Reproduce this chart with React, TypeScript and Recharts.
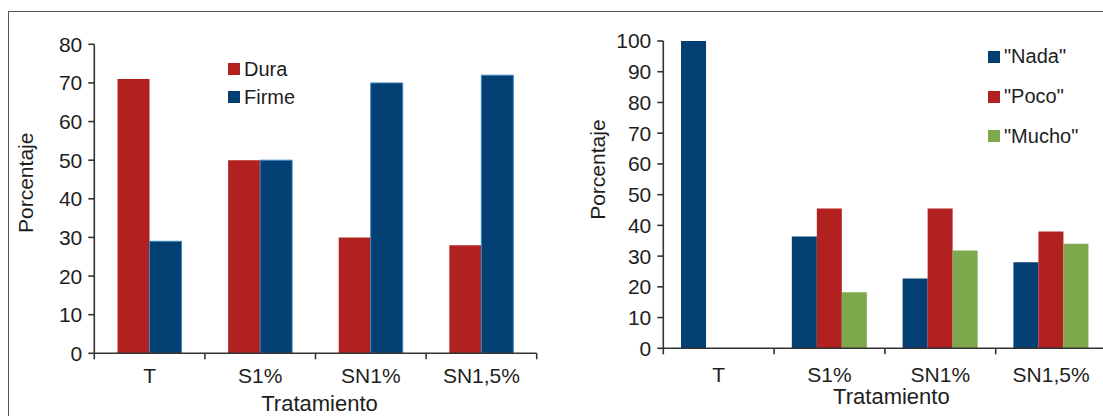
import React from 'react';
import { BarChart, Bar, XAxis, YAxis, Legend, Label } from 'recharts';

const categories = ['T', 'S1%', 'SN1%', 'SN1,5%'];
const dura = [71, 50, 30, 28];
const firme = [29, 50, 70, 72];
const nada = [100, 36.4, 22.7, 28];
const poco = [0, 45.5, 45.5, 38];
const mucho = [0, 18.2, 31.8, 34];
const leftTicks = [0, 10, 20, 30, 40, 50, 60, 70, 80];
const rightTicks = [0, 10, 20, 30, 40, 50, 60, 70, 80, 90, 100];

const leftData = categories.map((c, i) => ({ cat: c, Dura: dura[i], Firme: firme[i] }));
const rightData = categories.map((c, i) => ({ cat: c, Nada: nada[i], Poco: poco[i], Mucho: mucho[i] }));

const RED = '#B0211F';
const BLUE = '#033F73';
const GREEN = '#7DA84B';
const INK = '#1e1e1e';
const AXIS = '#333333';
const FONT = '"Liberation Sans", Arial, sans-serif';

function makeXTick(tickSize: number, tickMargin: number, fontSize: number, count: number) {
  return (props: any) => {
    const { x, y, payload, index } = props;
    const off = payload && payload.offset ? payload.offset : 0;
    const axisY = y - tickSize - tickMargin;
    const isLast = index === count - 1 || (payload && payload.value === categories[count - 1]);
    return (
      <g>
        <line x1={x - off} x2={x - off} y1={axisY} y2={axisY + tickSize} stroke={AXIS} strokeWidth={1.6} />
        {isLast ? (
          <line x1={x + off} x2={x + off} y1={axisY} y2={axisY + tickSize} stroke={AXIS} strokeWidth={1.6} />
        ) : null}
        <text x={x} y={y} dy="0.71em" textAnchor="middle" fontSize={fontSize} fill={INK} fontFamily={FONT}>
          {payload.value}
        </text>
      </g>
    );
  };
}

function makeLegend(rowH: number, names: string[]) {
  return (props: any) => {
    const payload = (props.payload || []).slice().sort(
      (a: any, b: any) => names.indexOf(a.value) - names.indexOf(b.value)
    );
    return (
      <div style={{ fontFamily: FONT }}>
        {payload.map((p: any) => (
          <div key={p.value} style={{ display: 'flex', alignItems: 'center', height: rowH, fontSize: 20, color: INK, whiteSpace: 'nowrap' }}>
            <span style={{ display: 'inline-block', width: 12, height: 12, background: p.color, marginRight: 4 }} />
            <span>{p.value}</span>
          </div>
        ))}
      </div>
    );
  };
}

const LeftTick = makeXTick(6, 9, 21, categories.length);
const RightTick = makeXTick(6, 13, 21, categories.length);

export default function App() {
  return (
    <div style={{ position: 'absolute', left: 0, top: 0, width: 1103, height: 416, overflow: 'hidden', background: '#fff', fontFamily: FONT }}>
      <div style={{ position: 'absolute', left: 8, top: 11, right: -2, bottom: -2, borderTop: '1px solid #555', borderLeft: '1px solid #555' }} />
      <div style={{ position: 'absolute', left: 0, top: 0 }}>
        <BarChart width={560} height={416} data={leftData} margin={{ top: 44.3, right: 23.3, left: 34.3, bottom: 12.7 }} barCategoryGap="21%" barGap={0}>
          <XAxis dataKey="cat" height={50} interval={0} tickLine={false} tickSize={6} tickMargin={9} tick={LeftTick} axisLine={{ stroke: AXIS, strokeWidth: 1.6 }}>
            <Label value="Tratamiento" position="center" dx={4} dy={25} style={{ fontSize: 22, fill: INK, fontFamily: FONT }} />
          </XAxis>
          <YAxis width={60} domain={[0, 80]} ticks={leftTicks} interval={0} tickSize={6} tickMargin={6}
            tick={{ fontSize: 21, fill: INK, fontFamily: FONT }} tickLine={{ stroke: AXIS, strokeWidth: 1.6 }} axisLine={{ stroke: AXIS, strokeWidth: 1.6 }}>
            <Label value="Porcentaje" position="center" angle={-90} dx={-39} dy={-16} style={{ fontSize: 21, fill: INK, fontFamily: FONT, textAnchor: 'middle' }} />
          </YAxis>
          <Legend layout="vertical" align="center" verticalAlign="middle" wrapperStyle={{ left: 228, top: 55, width: 'auto' }} content={makeLegend(28, ['Dura', 'Firme'])} />
          <Bar dataKey="Dura" name="Dura" fill={RED} isAnimationActive={false} />
          <Bar dataKey="Firme" name="Firme" fill={BLUE} stroke="#3f86c4" strokeWidth={1} isAnimationActive={false} />
        </BarChart>
      </div>
      <div style={{ position: 'absolute', left: 560, top: 0 }}>
        <BarChart width={560} height={416} data={rightData} margin={{ top: 41, right: 13.5, left: 43.3, bottom: 17.7 }} barCategoryGap="16%" barGap={0}>
          <XAxis dataKey="cat" height={50} interval={0} tickLine={false} tickSize={6} tickMargin={13} tick={RightTick} axisLine={{ stroke: AXIS, strokeWidth: 1.6 }}>
            <Label value="Tratamiento" position="center" dx={6.5} dy={23} style={{ fontSize: 22, fill: INK, fontFamily: FONT }} />
          </XAxis>
          <YAxis width={60} domain={[0, 100]} ticks={rightTicks} interval={0} tickSize={6} tickMargin={6}
            tick={{ fontSize: 21, fill: INK, fontFamily: FONT }} tickLine={{ stroke: AXIS, strokeWidth: 1.6 }} axisLine={{ stroke: AXIS, strokeWidth: 1.6 }}>
            <Label value="Porcentaje" position="center" angle={-90} dx={-36} dy={-25} style={{ fontSize: 21, fill: INK, fontFamily: FONT, textAnchor: 'middle' }} />
          </YAxis>
          <Legend layout="vertical" align="center" verticalAlign="middle" wrapperStyle={{ left: 428, top: 37, width: 'auto' }} content={makeLegend(39.7, ['"Nada"', '"Poco"', '"Mucho"'])} />
          <Bar dataKey="Nada" name={'"Nada"'} fill={BLUE} isAnimationActive={false} />
          <Bar dataKey="Poco" name={'"Poco"'} fill={RED} isAnimationActive={false} />
          <Bar dataKey="Mucho" name={'"Mucho"'} fill={GREEN} isAnimationActive={false} />
        </BarChart>
      </div>
    </div>
  );
}
